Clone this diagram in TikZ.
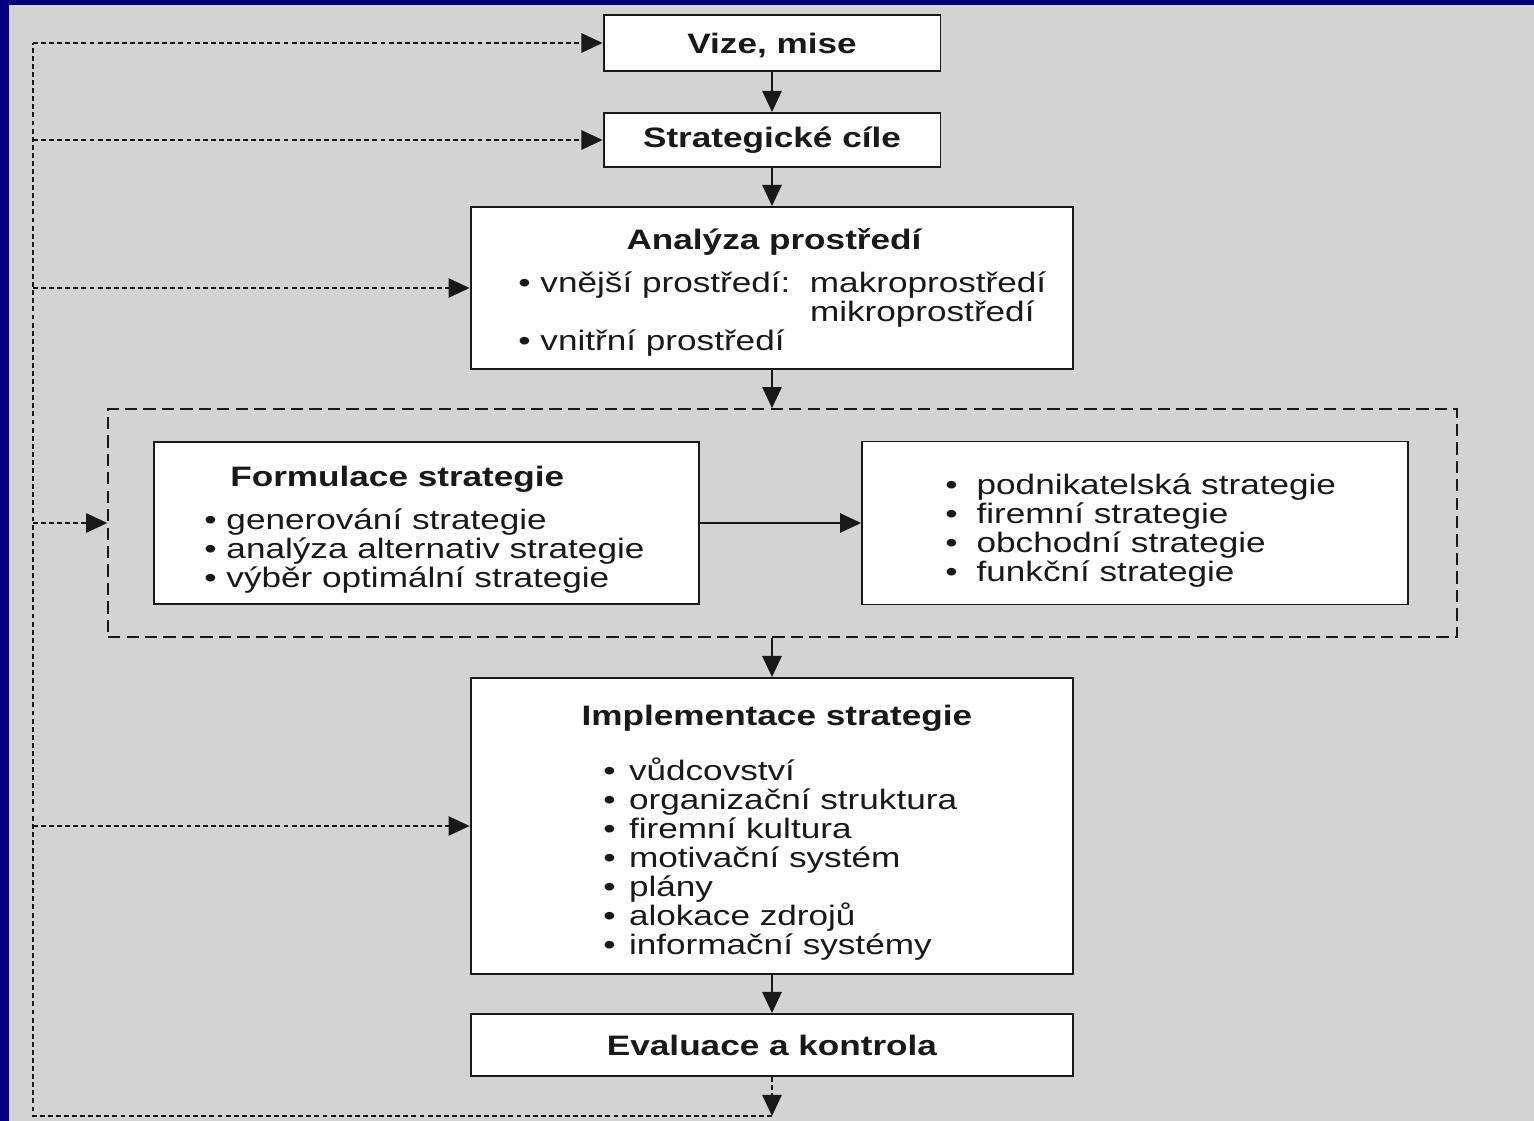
\documentclass[tikz,border=0pt]{standalone}
\usepackage{fontspec}
\setmainfont{Liberation Sans}[FakeStretch=1.25]
\usetikzlibrary{arrows.meta}
\definecolor{slide blue}{RGB}{0,0,128}
\definecolor{paper}{RGB}{211,211,211}
\definecolor{ink}{RGB}{25,25,25}
\newcommand{\boxfont}{\fontsize{16}{16.5}\selectfont}
\newcommand{\odrazka}[1][5.6pt]{•\hspace{#1}}
\tikzset{
  box/.style={draw=ink, fill=white, line width=1.1pt, inner sep=0pt},
  box title/.style={font=\boxfont\bfseries, text=ink, inner sep=0pt},
  box list/.style={font=\boxfont, align=left, text=ink, inner sep=0pt},
  link/.style={arrows={-Triangle[length=12pt,width=11pt]}, draw=ink, line width=1pt},
  feedback/.style={draw=ink, dash pattern=on 2.8pt off 1.8pt, line width=0.9pt},
  feedback link/.style={feedback, arrows={-Triangle[length=12pt,width=11pt]}},
  group/.style={draw=ink, dash pattern=on 7pt off 3.5pt, line width=1pt, inner sep=0pt}
}

\begin{document}
\begin{tikzpicture}[x=0.02cm, y=-0.02cm]
  % slide background
  \fill[paper] (0,0) rectangle (1534,1121);
  \fill[slide blue] (0,0) rectangle (9,1121);
  \fill[slide blue] (0,0) rectangle (1534,5);
  \useasboundingbox (0,0) rectangle (1534,1121);

  \node[box, box title, minimum width=6.74cm, minimum height=1.12cm, text depth=0pt] at (772,43) (vize) {Vize, mise};
  \node[box, box title, minimum width=6.74cm, minimum height=1.08cm] at (772,140) (cile) {Strategické cíle};

  \node[box, minimum width=12.06cm, minimum height=3.24cm] at (772,288) (analyza) {};
  \node[box title] at (774,242) (analyza title) {Analýza prostředí};
  \node[box list, anchor=west] at (518,314) (analyza list) {\odrazka vnější prostředí:\ \ makroprostředí\\
    \hphantom{\odrazka vnější prostředí:\ \ }mikroprostředí\\
    \odrazka vnitřní prostředí};

  \node[group, minimum width=26.98cm, minimum height=4.56cm] at (782.5,523) (skupina) {};

  \node[box, minimum width=10.9cm, minimum height=3.24cm] at (426.5,523) (formulace) {};
  \node[box title, anchor=west] at (230,479) (formulace title) {Formulace strategie};
  \node[box list, anchor=west] at (204,551) (formulace list) {\odrazka generování strategie\\
    \odrazka analýza alternativ strategie\\
    \odrazka výběr optimální strategie};

  \node[box, minimum width=10.92cm, minimum height=3.26cm] at (1135,523) (urovne) {};
  \node[box list, anchor=west] at (945,531) (urovne list) {\odrazka[10.8pt]podnikatelská strategie\\
    \odrazka[10.8pt]firemní strategie\\
    \odrazka[10.8pt]obchodní strategie\\
    \odrazka[10.8pt]funkční strategie};

  \node[box, minimum width=12.06cm, minimum height=5.92cm] at (772,826) (implementace) {};
  \node[box title] at (777,718) (implementace title) {Implementace strategie};
  \node[box list, anchor=west] at (603,859) (implementace list) {\odrazka[7.6pt]vůdcovství\\
    \odrazka[7.6pt]organizační struktura\\
    \odrazka[7.6pt]firemní kultura\\
    \odrazka[7.6pt]motivační systém\\
    \odrazka[7.6pt]plány\\
    \odrazka[7.6pt]alokace zdrojů\\
    \odrazka[7.6pt]informační systémy};

  \node[box, box title, minimum width=12.06cm, minimum height=1.24cm] at (772,1045) (evaluace) {Evaluace a kontrola};

  \draw[link] (vize) -- (cile);
  \draw[link] (cile) -- (analyza);
  \draw[link] (analyza) -- (analyza.south |- skupina.north);
  \draw[link] (formulace) -- (urovne);
  \draw[link] (implementace.north |- skupina.south) -- (implementace);
  \draw[link] (implementace) -- (evaluace);

  % feedback
  \coordinate (fb top) at (33,43);
  \coordinate (fb bottom) at (772,1116);
  \draw[feedback link] (evaluace) -- (fb bottom);
  \draw[feedback] (fb bottom) -| (fb top);
  \draw[feedback link] (fb top) -- (vize);
  \foreach \target in {cile,analyza,skupina,implementace}
    \draw[feedback link] (fb top |- \target) -- (\target);
\end{tikzpicture}
\end{document}
